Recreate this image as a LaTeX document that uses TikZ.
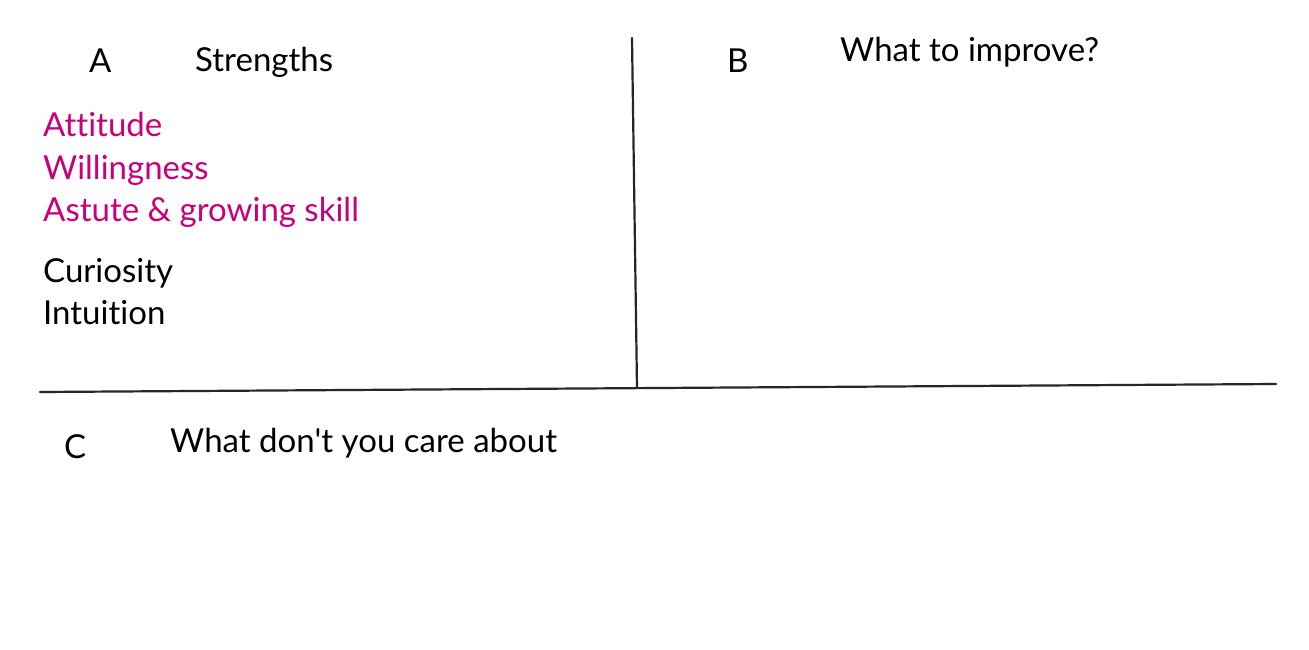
\documentclass[tikz,border=0pt]{standalone}
\usepackage{fontspec}
\setmainfont[Ligatures=NoCommon]{Lato}
\definecolor{pinkish}{HTML}{C8007A}
\begin{document}
\begin{tikzpicture}[x=1pt,y=-1pt,
  txt/.style={anchor=base west,inner sep=0pt,font=\fontsize{33}{36}\selectfont},
  hot/.style={txt,text=pinkish},
  rule/.style={line width=2.2pt,draw=black!85,line cap=round}]
\useasboundingbox[fill=white] (0,0) rectangle (1309,650);
\coordinate (vt) at (632,38);
\coordinate (vb) at (637,388);
\coordinate (hl) at (40,392);
\coordinate (hr) at (1276,384);
\draw[rule] (vt) -- (vb);
\draw[rule] (hl) -- (hr);
\node[txt] (a) at (89,73) {A};
\node[txt] (as) at (195,72) {Strengths};
\node[hot] (h1) at (43,137) {Attitude};
\node[hot] (h2) at (43,179) {Willingness};
\node[hot] (h3) at (43,221) {Astute \& growing skill};
\node[txt] (k1) at (43,282) {Curiosity};
\node[txt] (k2) at (43,324) {Intuition};
\node[txt] (b) at (727,73) {B};
\node[txt] (bs) at (840,62) {What to improve?};
\node[txt] (c) at (64,458) {C};
\node[txt] (cs) at (170,452) {What don\textquotesingle t you care about};
\end{tikzpicture}
\end{document}
